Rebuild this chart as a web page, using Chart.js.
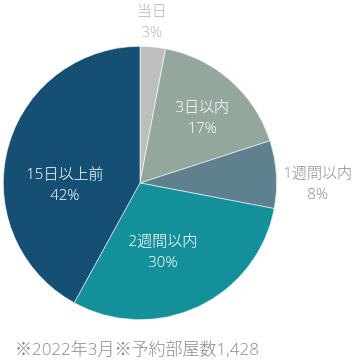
<!DOCTYPE html>
<html><head><meta charset="utf-8">
<script src="https://cdn.jsdelivr.net/npm/chart.js@4.4.1/dist/chart.umd.min.js"></script>
<style>
html,body{margin:0;padding:0;background:#fff;}
#wrap{position:relative;width:358px;height:362px;}
#note{position:absolute;left:15px;top:337px;font-family:"Open Sans","Noto Sans CJK JP",sans-serif;font-weight:300;font-size:17px;color:#8a8a8a;white-space:nowrap;line-height:24px;}
</style></head>
<body>
<div id="wrap"><canvas id="c" width="358" height="362"></canvas><div id="note">※2022年3月※予約部屋数1,428</div></div>
<script>
const categories = ["当日", "3日以内", "1週間以内", "2週間以内", "15日以上前"];
const values = [3, 17, 8, 30, 42];
const percentLabels = ["3%", "17%", "8%", "30%", "42%"];
const colors = ["#bdbfbe", "#93a79d", "#5f808f", "#14909b", "#164f74"];
const labelColors = ["#b4b4b4", "#ffffff", "#8c8c8c", "#ffffff", "#ffffff"];
// label placement relative to the slice: radius factor and angle shift (deg)
const labelRadius = [1.18, 0.66, 1.30, 0.53, 0.55];
const labelAngleShift = [-1.2, 2.3, 3.9, 6.8, -16];

const labelPlugin = {
  id: 'sliceLabels',
  afterDatasetsDraw(chart) {
    const ctx = chart.ctx;
    const meta = chart.getDatasetMeta(0);
    ctx.save();
    ctx.font = '300 15px "Open Sans","Noto Sans CJK JP",sans-serif';
    ctx.textAlign = 'center';
    ctx.textBaseline = 'middle';
    meta.data.forEach((arc, i) => {
      const p = arc.getProps(['x','y','startAngle','endAngle','outerRadius'], true);
      const mid = (p.startAngle + p.endAngle) / 2 + labelAngleShift[i] * Math.PI / 180;
      const r = p.outerRadius * labelRadius[i];
      const x = p.x + Math.cos(mid) * r;
      const y = p.y + Math.sin(mid) * r;
      ctx.fillStyle = labelColors[i];
      ctx.fillText(categories[i], x, y - 10.5);
      ctx.fillText(percentLabels[i], x, y + 10.5);
    });
    ctx.restore();
  }
};

new Chart(document.getElementById('c'), {
  type: 'pie',
  data: { labels: categories, datasets: [{ data: values, backgroundColor: colors, borderColor: '#ffffff', borderWidth: 0.6 }] },
  options: {
    responsive: false,
    animation: false,
    layout: { padding: { left: 3, right: 81, top: 46, bottom: 42 } },
    plugins: { legend: { display: false }, tooltip: { enabled: false } }
  },
  plugins: [labelPlugin]
});
</script>
</body></html>
